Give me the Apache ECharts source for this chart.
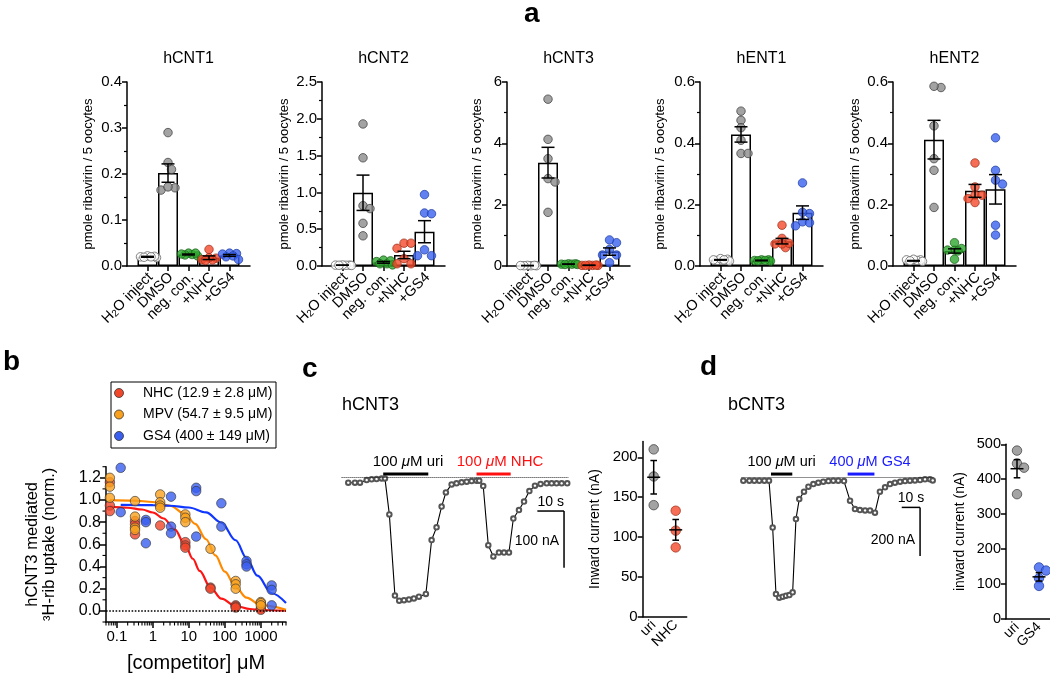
<!DOCTYPE html>
<html><head><meta charset="utf-8">
<script src="https://cdn.jsdelivr.net/npm/echarts@6/dist/echarts.min.js"></script>
<style>html,body{margin:0;padding:0;background:#fff}#chart{width:1050px;height:674px}</style>
</head><body><div id="chart"></div>
<script>
// ================= DATA =================
// ---- Panel a: ribavirin uptake ----
const groupNames = ['H2O inject', 'DMSO', 'neg. con.', '+NHC', '+GS4'];
const transporterNames = ['hCNT1', 'hCNT2', 'hCNT3', 'hENT1', 'hENT2'];
const yAxisMaxA = [0.4, 2.5, 6, 0.6, 0.6];
const yAxisStepA = [0.1, 0.5, 2, 0.2, 0.2];
const yAxisDecimalsA = [1, 1, 0, 1, 1];
const yAxisNameA = 'pmole ribavirin / 5 oocytes';

const hCNT1Points = [
  [0.020, 0.022, 0.018, 0.021, 0.019, 0.020],
  [0.290, 0.225, 0.210, 0.165, 0.170, 0.172],
  [0.025, 0.028, 0.024, 0.022, 0.028, 0.026],
  [0.036, 0.017, 0.013, 0.018, 0.014, 0.012],
  [0.027, 0.028, 0.020, 0.022, 0.014, 0.026]
];
const hCNT1Mean = [0.020, 0.202, 0.025, 0.018, 0.023];
const hCNT1Sem = [0.001, 0.020, 0.001, 0.004, 0.002];

const hCNT2Points = [
  [0.012, 0.010, 0.014, 0.008, 0.012, 0.010],
  [1.93, 1.47, 0.82, 0.78, 0.58, 0.41],
  [0.08, 0.03, 0.06, 0.03, 0.07, 0.015],
  [0.31, 0.24, 0.31, 0.10, 0.03, 0.03],
  [0.97, 0.72, 0.71, 0.22, 0.14, 0.14]
];
const hCNT2Mean = [0.011, 0.995, 0.05, 0.15, 0.466];
const hCNT2Sem = [0.001, 0.24, 0.012, 0.05, 0.15];

const hCNT3Points = [
  [0.01, 0.02, 0.01, 0.015, 0.01, 0.02],
  [5.44, 4.13, 3.50, 2.85, 2.74, 1.75],
  [0.06, 0.07, 0.05, 0.06, 0.07, 0.05],
  [0.02, 0.02, 0.03, 0.02, 0.02, 0.03],
  [0.76, 0.85, 0.54, 0.36, 0.36, 0.11]
];
const hCNT3Mean = [0.014, 3.37, 0.06, 0.023, 0.47];
const hCNT3Sem = [0.002, 0.50, 0.004, 0.002, 0.12];

const hENT1Points = [
  [0.022, 0.018, 0.024, 0.020, 0.016, 0.020],
  [0.505, 0.475, 0.451, 0.410, 0.367, 0.367],
  [0.018, 0.020, 0.017, 0.020, 0.016, 0.018],
  [0.133, 0.090, 0.060, 0.074, 0.072, 0.072],
  [0.271, 0.171, 0.175, 0.144, 0.141, 0.131]
];
const hENT1Mean = [0.020, 0.429, 0.018, 0.081, 0.174];
const hENT1Sem = [0.001, 0.025, 0.001, 0.009, 0.022];

const hENT2Points = [
  [0.020, 0.018, 0.022, 0.015, 0.020, 0.017],
  [0.582, 0.586, 0.457, 0.350, 0.312, 0.191],
  [0.057, 0.052, 0.052, 0.049, 0.076, 0.022],
  [0.336, 0.258, 0.231, 0.231, 0.207, 0.220],
  [0.418, 0.312, 0.267, 0.280, 0.133, 0.101]
];
const hENT2Mean = [0.017, 0.412, 0.049, 0.245, 0.250];
const hENT2Sem = [0.001, 0.063, 0.007, 0.021, 0.048];

// ---- Panel b: competition curves ----
const bLegendNames = ['NHC (12.9 ± 2.8 μM)', 'MPV (54.7 ± 9.5 μM)', 'GS4 (400 ± 149 μM)'];
const bTickValues = [0.1, 1, 10, 100, 1000];
const bTickLabels = ['0.1', '1', '10', '100', '1000'];
const bYTickValues = [0, 0.2, 0.4, 0.6, 0.8, 1.0, 1.2];
const bYTickLabels = ['0.0', '0.2', '0.4', '0.6', '0.8', '1.0', '1.2'];
const bYMinorTicks = [-0.1, 0.1, 0.3, 0.5, 0.7, 0.9, 1.1, 1.3];
const nhcConc = [0.064, 0.064, 0.064, 0.32, 0.32, 0.32, 1.6, 8, 8, 8, 40, 40, 200, 200, 200, 1000, 1000];
const nhcUptake = [1.16, 0.95, 0.90, 0.81, 0.78, 0.69, 0.77, 0.62, 0.59, 0.57, 0.21, 0.20, 0.05, 0.04, 0.03, 0.02, 0.01];
const mpvConc = [0.064, 0.064, 0.064, 0.32, 0.32, 0.32, 0.32, 1.6, 1.6, 1.6, 1.6, 8, 8, 8, 40, 200, 200, 200, 1000, 1000, 1000];
const mpvUptake = [1.20, 1.12, 1.02, 0.99, 0.85, 0.75, 0.73, 1.05, 0.98, 0.95, 0.93, 0.87, 0.84, 0.80, 0.56, 0.27, 0.24, 0.20, 0.08, 0.07, 0.05];
const gs4Conc = [0.128, 0.128, 0.64, 0.64, 0.64, 3.2, 3.2, 3.2, 16, 16, 16, 80, 80, 400, 400, 400, 2000, 2000, 2000];
const gs4Uptake = [1.29, 0.89, 0.82, 0.80, 0.61, 1.03, 0.76, 0.70, 1.11, 1.08, 0.67, 0.97, 0.76, 0.45, 0.42, 0.40, 0.23, 0.19, 0.05];
// fitted curves
const nhcFitConc = [0.064, 0.2, 0.5, 1, 2, 4, 8, 12.9, 20, 40, 80, 200, 500, 1000, 5000];
const nhcFitUptake = [0.94, 0.93, 0.914, 0.887, 0.833, 0.737, 0.59, 0.47, 0.36, 0.21, 0.11, 0.044, 0.017, 0.008, 0.002];
const mpvFitConc = [0.064, 0.3, 1, 3, 8, 15, 30, 54.7, 100, 200, 400, 1000, 5000];
const mpvFitUptake = [0.999, 0.995, 0.982, 0.948, 0.872, 0.785, 0.646, 0.5, 0.354, 0.215, 0.12, 0.052, 0.011];
const gs4FitConc = [0.128, 1, 3, 10, 30, 80, 200, 400, 800, 2000, 5000];
const gs4FitUptake = [0.955, 0.953, 0.948, 0.932, 0.888, 0.796, 0.637, 0.478, 0.318, 0.159, 0.071];

// ---- Panel c: hCNT3 current trace + summary ----
const cTitle = 'hCNT3';
const cTime = [0, 2.5, 4.4, 6.9, 8.75, 10.6, 12.5, 13.75, 15.4, 17.5, 19.1, 20.9, 22.75, 24.6, 26.5, 29.1, 31.25, 33.1, 35, 36.6, 38.75, 40.6, 42.5, 44.4, 46.25, 48.1, 49.1, 50.6, 52.5, 54.4, 56.5, 58.4, 60.25, 61.9, 64, 65.9, 67.9, 70, 72.1, 74.4, 76.25, 78.1, 80, 82.1];
const cCurrent = [-8.8, -8.8, -8.8, -4.1, -2.9, -2.4, -1.2, -1.2, -64.7, -208, -217, -216, -215, -213, -210, -205, -110, -87.6, -51, -25.9, -11.8, -10, -8.2, -7, -5.9, -5.3, -5.3, -14.7, -119, -139, -132, -132, -132, -72, -57, -42, -23.5, -14, -11, -10, -10, -10, -10, -10];
const cAppLabels = ['100 {i|μ}M uri', '100 {i|μ}M NHC'];
const cAppStart = [13.1, 48.1];
const cAppEnd = [30, 60.9];
const cScaleLabels = ['10 s', '100 nA'];
const cScaleTime = 10, cScaleCurrent = 100;
const cCategories = ['uri', 'NHC'];
const cPoints = [[210, 176, 140], [133, 108, 87]];
const cMean = [175, 109];
const cSem = [21, 13];
const cTickValues = [0, 50, 100, 150, 200];
const cYName = 'Inward current (nA)';

// ---- Panel d: bCNT3 current trace + summary ----
const dTitle = 'bCNT3';
const dTime = [0, 3.3, 6, 8.7, 11.5, 14, 16, 17.8, 19.6, 21.5, 23.3, 25.1, 26.9, 28.7, 30.5, 33.1, 35.5, 38.2, 40.9, 43.6, 46.4, 49.1, 51.8, 54.9, 58.2, 60.9, 63.6, 66.4, 69.1, 71.8, 74.5, 77.3, 80, 82.7, 85.5, 88.2, 90.9, 93.6, 96.4, 99.1, 101.8, 103.3];
const dCurrent = [-12.3, -12.3, -12.3, -12.3, -12.3, -12.3, -205, -478, -493, -489, -485, -482, -471, -170, -88, -57.5, -37, -26, -20.5, -16.4, -13.7, -12.3, -12.3, -13.7, -94.5, -128.8, -132.9, -134.3, -134.3, -143.8, -57.5, -39.7, -26, -20.5, -16.4, -13.7, -12.3, -11, -9.6, -6.8, -6.8, -11];
const dAppLabels = ['100 {i|μ}M uri', '400 {i|μ}M GS4'];
const dAppStart = [15.1, 56.9];
const dAppEnd = [26.7, 71.5];
const dScaleLabels = ['10 s', '200 nA'];
const dScaleTime = 10, dScaleCurrent = 200;
const dCategories = ['uri', 'GS4'];
const dPoints = [[482, 445, 433, 357], [147, 138, 116, 94]];
const dMean = [430, 120];
const dSem = [26, 12];
const dTickValues = [0, 100, 200, 300, 400, 500];
const dYName = 'inward current (nA)';

// ================= LAYOUT & STYLE =================
const FONT = '"Liberation Sans", Arial, Helvetica, sans-serif';
const panelA = [
  {pts: hCNT1Points, mean: hCNT1Mean, sem: hCNT1Sem},
  {pts: hCNT2Points, mean: hCNT2Mean, sem: hCNT2Sem},
  {pts: hCNT3Points, mean: hCNT3Mean, sem: hCNT3Sem},
  {pts: hENT1Points, mean: hENT1Mean, sem: hENT1Sem},
  {pts: hENT2Points, mean: hENT2Mean, sem: hENT2Sem}
];
const aLefts = [127, 322, 507, 700, 893];
const aTop = 82, aWidth = 123, aHeight = 184;
const aNameGap = [32, 31, 23, 33, 31];
const groupFill = ['#ffffff', '#8c8c8c', '#2ca62c', '#f24a2a', '#3a62f0'];
const groupStroke = ['#555555', '#3a3a3a', '#1b5e1b', '#9c2d17', '#1c3a9e'];
const bFill = ['#f0462a', '#f9a11e', '#3a5ff0'];
const bLine = ['#ff1414', '#ff8a00', '#1037ff'];
const axisStyle = {color: '#000', width: 1.5};

const grids = [];
const xAxes = [];
const yAxes = [];
const series = [];

function swarm(vals, pxPerUnit) {
  const order = vals.map((v, i) => i).sort((a, b) => vals[b] - vals[a]);
  const cands = [0, 3.5, -3.5, 7, -7, 9, -9];
  const placed = [];
  const off = vals.map(() => 0);
  order.forEach(i => {
    const y = vals[i] * pxPerUnit;
    let best = 0, bestD = -1;
    for (const c of cands) {
      const dmin = placed.reduce((m, p) => Math.min(m, Math.hypot(p.x - c, p.y - y)), Infinity);
      if (dmin >= 7) { best = c; break; }
      if (dmin > bestD) { bestD = dmin; best = c; }
    }
    off[i] = best;
    placed.push({x: best, y});
  });
  return off;
}

function errorBarSeries(gi, xs, means, sems, capHalf, meanHalf) {
  return {
    type: 'custom', xAxisIndex: gi, yAxisIndex: gi, z: 6, silent: true,
    data: means.map((m, k) => [xs[k], m, sems[k]]),
    encode: {x: 0, y: 1},
    renderItem(params, api) {
      const x = api.value(0), m = api.value(1), s = api.value(2);
      const t = api.coord([x, m + s]), b = api.coord([x, m - s]), c = api.coord([x, m]);
      const st = {stroke: '#000', lineWidth: 1.5};
      const ch = [
        {type: 'line', shape: {x1: t[0], y1: t[1], x2: b[0], y2: b[1]}, style: st},
        {type: 'line', shape: {x1: t[0] - capHalf, y1: t[1], x2: t[0] + capHalf, y2: t[1]}, style: st},
        {type: 'line', shape: {x1: b[0] - capHalf, y1: b[1], x2: b[0] + capHalf, y2: b[1]}, style: st}
      ];
      if (meanHalf) ch.push({type: 'line', shape: {x1: c[0] - meanHalf, y1: c[1], x2: c[0] + meanHalf, y2: c[1]}, style: st});
      return {type: 'group', children: ch};
    }
  };
}

// rotated category labels drawn at the category positions of the axis
function categoryLabelSeries(gi, names, fontSize) {
  return {
    type: 'custom', xAxisIndex: gi, yAxisIndex: gi, silent: true, z: 5, clip: false,
    data: names.map((n, k) => [k + 1, 0]), encode: {x: 0, y: 1},
    renderItem(params, api) {
      const p = api.coord([api.value(0), api.value(1)]);
      const name = names[params.dataIndex].replace('H2O', 'H{sub|2}O');
      return {type: 'text', x: p[0] + 3, y: p[1] + 9, rotation: Math.PI / 4,
        style: {text: name, fill: '#000', fontSize, fontFamily: FONT, align: 'right', verticalAlign: 'middle',
          rich: {sub: {fontSize: fontSize * 0.68, fontFamily: FONT, fill: '#000', verticalAlign: 'bottom', lineHeight: fontSize * 0.8}}}};
    }
  };
}
// short minor ticks drawn through an axis scale
function minorTickSeries(gi, values, dim, fixed, len) {
  return {
    type: 'custom', xAxisIndex: gi, yAxisIndex: gi, silent: true, z: 1, clip: false,
    data: values.map(v => dim === 'x' ? [v, fixed] : [fixed, v]), encode: {x: 0, y: 1},
    renderItem(params, api) {
      const p = api.coord([api.value(0), api.value(1)]);
      const shape = dim === 'x' ? {x1: p[0], y1: p[1], x2: p[0], y2: p[1] + len} : {x1: p[0], y1: p[1], x2: p[0] - len, y2: p[1]};
      return {type: 'line', shape, style: {stroke: '#000', lineWidth: 1.1}};
    }
  };
}

// ---------- panel a ----------
panelA.forEach((p, i) => {
  grids.push({left: aLefts[i], top: aTop, width: aWidth, height: aHeight});
  xAxes.push({
    gridIndex: i, type: 'category', data: [''].concat(groupNames, ['']), boundaryGap: false,
    axisLine: {lineStyle: axisStyle},
    axisTick: {interval: (idx, v) => v !== '', length: 5, lineStyle: axisStyle},
    axisLabel: {show: false},
    splitLine: {show: false}
  });
  yAxes.push({
    gridIndex: i, type: 'value', min: 0, max: yAxisMaxA[i], interval: yAxisStepA[i],
    axisLine: {show: true, lineStyle: axisStyle},
    axisTick: {show: true, length: 5, lineStyle: axisStyle},
    minorTick: {show: true, splitNumber: 2, length: 3, lineStyle: {color: '#000', width: 1.2}},
    splitLine: {show: false}, minorSplitLine: {show: false},
    axisLabel: {fontSize: 15, color: '#000', fontFamily: FONT, margin: 5,
      formatter: v => v.toFixed(yAxisDecimalsA[i])},
    name: yAxisNameA, nameLocation: 'middle', nameGap: aNameGap[i],
    nameTextStyle: {fontSize: 13, color: '#000', fontFamily: FONT}
  });
  series.push({
    type: 'bar', xAxisIndex: i, yAxisIndex: i, barWidth: 20, z: 2, silent: true,
    data: ['-'].concat(p.mean, ['-']),
    itemStyle: {color: '#fff', borderColor: '#000', borderWidth: 1.5}
  });
  const pxPerUnit = aHeight / yAxisMaxA[i];
  const items = [];
  p.pts.forEach((vals, g) => {
    const offs = swarm(vals, pxPerUnit);
    vals.forEach((v, k) => items.push({
      value: [g + 1, v], symbolOffset: [offs[k], 0],
      itemStyle: {color: groupFill[g], borderColor: groupStroke[g], borderWidth: 0.9}
    }));
  });
  series.push({type: 'scatter', xAxisIndex: i, yAxisIndex: i, symbolSize: 8.5, z: 4, silent: true, data: items});
  series.push(errorBarSeries(i, p.mean.map((m, g) => g + 1), p.mean, p.sem, 6.5, 0));
  series.push(categoryLabelSeries(i, groupNames, 14.5));
});

// ---------- panel b (grid 5) ----------
grids.push({left: 106, top: 466.7, width: 180, height: 158.7});
xAxes.push({
  gridIndex: 5, type: 'log', logBase: 10, min: 0.05, max: 5000,
  axisLine: {onZero: false, lineStyle: axisStyle},
  axisTick: {length: 6, customValues: bTickValues, lineStyle: axisStyle},
  axisLabel: {customValues: bTickValues, fontSize: 15, color: '#000', fontFamily: FONT, margin: 7,
    formatter: v => {
      const k = bTickValues.findIndex(t => Math.abs(Math.log10(t) - Math.log10(v)) < 0.01);
      return k >= 0 ? bTickLabels[k] : '';
    }},
  splitLine: {show: false},
  name: '[competitor] μM', nameLocation: 'middle', nameGap: 31,
  nameTextStyle: {fontSize: 20, color: '#000', fontFamily: FONT}
});
yAxes.push({
  gridIndex: 5, type: 'value', min: -0.1, max: 1.3, interval: 0.1,
  axisLine: {onZero: false, lineStyle: axisStyle},
  axisTick: {length: 6, customValues: bYTickValues, lineStyle: axisStyle},
  splitLine: {show: false},
  axisLabel: {customValues: bYTickValues, fontSize: 16, color: '#000', fontFamily: FONT, margin: 5,
    formatter: v => { const k = bYTickValues.findIndex(t => Math.abs(t - v) < 1e-6); return k >= 0 ? bYTickLabels[k] : ''; }},
  name: 'hCNT3 mediated\n³H-rib uptake (norm.)', nameLocation: 'middle', nameGap: 48,
  nameTextStyle: {fontSize: 16.5, lineHeight: 17, color: '#000', fontFamily: FONT}
});
// minor log ticks on x and minor ticks on y, drawn through the axis scales
const minorLogTicks = [];
[0.01, 0.1, 1, 10, 100, 1000].forEach(dec => { for (let m = 2; m <= 9; m++) { const v = dec * m; if (v >= 0.05 && v <= 5000) minorLogTicks.push(v); } });
series.push(minorTickSeries(5, minorLogTicks, 'x', -0.1, 3.5));
series.push(minorTickSeries(5, bYMinorTicks, 'y', 0.05, 3.5));
[[nhcFitConc, nhcFitUptake], [mpvFitConc, mpvFitUptake], [gs4FitConc, gs4FitUptake]].forEach((c, k) => {
  series.push({
    type: 'line', xAxisIndex: 5, yAxisIndex: 5, z: 3, silent: true, showSymbol: false, symbol: 'none',
    smooth: 0.35, smoothMonotone: 'x',
    data: c[0].map((x, j) => [x, c[1][j]]),
    lineStyle: {color: bLine[k], width: 2.2}
  });
});
[[nhcConc, nhcUptake], [mpvConc, mpvUptake], [gs4Conc, gs4Uptake]].forEach((c, k) => {
  const s = {
    type: 'scatter', name: bLegendNames[k], xAxisIndex: 5, yAxisIndex: 5, z: 4, silent: true,
    symbolSize: 9.5, data: c[0].map((x, j) => [x, c[1][j]]),
    itemStyle: {color: bFill[k], borderColor: '#333', borderWidth: 0.8}
  };
  if (k === 0) s.markLine = {silent: true, symbol: ['none', 'none'], label: {show: false},
    lineStyle: {type: 'dotted', color: '#000', width: 1.6}, data: [{yAxis: 0}]};
  series.push(s);
});

// ---------- trace helpers ----------
function appSeries(gi, starts, ends, labelTimes, labels, colors, barI, labelI, fontSize) {
  return {
    type: 'custom', xAxisIndex: gi, yAxisIndex: gi, silent: true, z: 5, clip: false,
    data: starts.map((s, k) => [s, ends[k], barI, labelI, labelTimes[k]]),
    encode: {x: [0, 1], y: [2, 3]},
    renderItem(params, api) {
      const k = params.dataIndex;
      const p1 = api.coord([api.value(0), api.value(2)]);
      const p2 = api.coord([api.value(1), api.value(2)]);
      const pl = api.coord([api.value(4), api.value(3)]);
      return {type: 'group', children: [
        {type: 'line', shape: {x1: p1[0], y1: p1[1], x2: p2[0], y2: p2[1]}, style: {stroke: colors[k], lineWidth: 3}},
        {type: 'text', x: pl[0], y: pl[1], style: {text: labels[k], fill: colors[k], fontSize, fontFamily: FONT,
          align: 'center', verticalAlign: 'middle',
          rich: {i: {fontStyle: 'italic', fill: colors[k], fontSize, fontFamily: FONT}}}}
      ]};
    }
  };
}
function scaleBarSeries(gi, t0, i0, dt, di, labels, fontSize, nALabelDy) {
  return {
    type: 'custom', xAxisIndex: gi, yAxisIndex: gi, silent: true, z: 5, clip: false,
    data: [[t0, i0]], encode: {x: 0, y: 1},
    renderItem(params, api) {
      const a = api.coord([t0, i0]), b = api.coord([t0 + dt, i0]), c = api.coord([t0 + dt, i0 - di]);
      const st = {stroke: '#000', lineWidth: 1.5};
      return {type: 'group', children: [
        {type: 'line', shape: {x1: a[0], y1: a[1], x2: b[0], y2: b[1]}, style: st},
        {type: 'line', shape: {x1: b[0], y1: b[1], x2: c[0], y2: c[1]}, style: st},
        {type: 'text', x: (a[0] + b[0]) / 2, y: a[1] - 2, style: {text: labels[0], fill: '#000', fontSize, fontFamily: FONT, align: 'center', verticalAlign: 'bottom'}},
        {type: 'text', x: b[0] - 5, y: (b[1] + c[1]) / 2 + nALabelDy, style: {text: labels[1], fill: '#000', fontSize, fontFamily: FONT, align: 'right', verticalAlign: 'middle'}}
      ]};
    }
  };
}
function traceSeries(gi, t, cur) {
  return {
    type: 'line', xAxisIndex: gi, yAxisIndex: gi, silent: true, z: 3,
    data: t.map((x, k) => [x, cur[k]]),
    symbol: 'emptyCircle', symbolSize: 4.5, showAllSymbol: true,
    lineStyle: {color: '#000', width: 1.1},
    itemStyle: {color: '#555', borderWidth: 0.9},
    markLine: {silent: true, symbol: ['none', 'none'], label: {show: false},
      lineStyle: {type: 'dotted', color: '#222', width: 1}, data: [{yAxis: 0}]}
  };
}
function summaryAxes(gi, cats, max, interval, ticks, yName, nameGap, fontSize) {
  xAxes.push({
    gridIndex: gi, type: 'category', data: cats,
    axisLine: {lineStyle: axisStyle},
    axisTick: {alignWithLabel: true, length: 5, lineStyle: axisStyle},
    axisLabel: {interval: 0, showMinLabel: true, showMaxLabel: true, hideOverlap: false,
      rotate: 45, fontSize: 14, color: '#000', fontFamily: FONT, margin: 6},
    splitLine: {show: false}
  });
  yAxes.push({
    gridIndex: gi, type: 'value', min: 0, max, interval,
    axisLine: {show: true, lineStyle: axisStyle},
    axisTick: {show: true, length: 5, customValues: ticks, lineStyle: axisStyle},
    axisLabel: {customValues: ticks, fontSize, color: '#000', fontFamily: FONT, margin: 5,
      formatter: v => (ticks.indexOf(v) >= 0 ? String(v) : '')},
    splitLine: {show: false},
    name: yName, nameLocation: 'middle', nameGap,
    nameTextStyle: {fontSize: 14, color: '#000', fontFamily: FONT}
  });
}
function summarySeries(gi, pts, colors, strokes, pxPerUnit, means, sems) {
  const items = [];
  pts.forEach((vals, g) => {
    const offs = swarm(vals, pxPerUnit);
    vals.forEach((v, k) => items.push({value: [g, v], symbolOffset: [offs[k], 0],
      itemStyle: {color: colors[g], borderColor: strokes[g], borderWidth: 0.9}}));
  });
  series.push({type: 'scatter', xAxisIndex: gi, yAxisIndex: gi, symbolSize: 9.5, z: 4, silent: true, data: items});
  series.push(errorBarSeries(gi, means.map((m, g) => g), means, sems, 3.3, 6.5));
}

// ---------- panel c (grids 6, 7) ----------
grids.push({left: 341.6, top: 452.2, width: 226.7, height: 158.7});
xAxes.push({gridIndex: 6, type: 'value', min: -2.5, max: 82.5, show: false});
yAxes.push({gridIndex: 6, type: 'value', min: -235, max: 45, show: false});
series.push(traceSeries(6, cTime, cCurrent));
series.push(appSeries(6, cAppStart, cAppEnd, [22.4, 56.9], cAppLabels, ['#000', '#ff1010'], 6.5, 28.2, 15));
series.push(scaleBarSeries(6, 70.9, -58.8, cScaleTime, cScaleCurrent, cScaleLabels, 14, 2));

grids.push({left: 642.7, top: 441.4, width: 44, height: 175.3});
summaryAxes(7, cCategories, 220, 50, cTickValues, cYName, 41, 15);
summarySeries(7, cPoints, ['#8c8c8c', '#f24a2a'], ['#3a3a3a', '#9c2d17'], 175.3 / 220, cMean, cSem);

// ---------- panel d (grids 8, 9) ----------
grids.push({left: 741.5, top: 455.8, width: 192.5, height: 158.2});
xAxes.push({gridIndex: 8, type: 'value', min: -1, max: 104, show: false});
yAxes.push({gridIndex: 8, type: 'value', min: -560, max: 90, show: false});
series.push(traceSeries(8, dTime, dCurrent));
series.push(appSeries(8, dAppStart, dAppEnd, [20.9, 69.1], dAppLabels, ['#000', '#1a1aff'], 15, 65.7, 14.5));
series.push(scaleBarSeries(8, 86.4, -122, dScaleTime, dScaleCurrent, dScaleLabels, 14, 8));

grids.push({left: 1006, top: 444.3, width: 44, height: 174.4});
summaryAxes(9, dCategories, 500, 100, dTickValues, dYName, 39, 14.5);
summarySeries(9, dPoints, ['#8c8c8c', '#3a62f0'], ['#3a3a3a', '#1c3a9e'], 174.4 / 500, dMean, dSem);

// ---------- free text ----------
const graphics = [];
function txt(text, x, y, size, opts) {
  graphics.push(Object.assign({type: 'text', x, y, silent: true,
    style: Object.assign({text, fill: '#000', fontSize: size, fontFamily: FONT, align: 'left', verticalAlign: 'middle'}, opts || {})}));
}
txt('a', 524, 14, 28, {fontWeight: 'bold'});
txt('b', 3, 362, 28, {fontWeight: 'bold'});
txt('c', 302, 369, 28, {fontWeight: 'bold'});
txt('d', 700, 367, 28, {fontWeight: 'bold'});
transporterNames.forEach((n, i) => txt(n, aLefts[i] + aWidth / 2, 59, 16, {align: 'center'}));
txt(cTitle, 342, 405, 18);
txt(dTitle, 728, 405, 18);
// legend of panel b
graphics.push({type: 'rect', silent: true, shape: {x: 111, y: 382, width: 165, height: 66}, style: {fill: 'none', stroke: '#000', lineWidth: 1}});
bLegendNames.forEach((n, k) => {
  const y = 393 + k * 21.5;
  graphics.push({type: 'circle', silent: true, shape: {cx: 119, cy: y, r: 4.5}, style: {fill: bFill[k], stroke: '#333', lineWidth: 0.8}});
  txt(n, 143, y, 14);
});

const chart = echarts.init(document.getElementById('chart'), null, {renderer: 'canvas'});
chart.setOption({
  animation: false,
  backgroundColor: '#fff',
  textStyle: {fontFamily: FONT},
  grid: grids, xAxis: xAxes, yAxis: yAxes, series,
  graphic: graphics
});
</script></body></html>
